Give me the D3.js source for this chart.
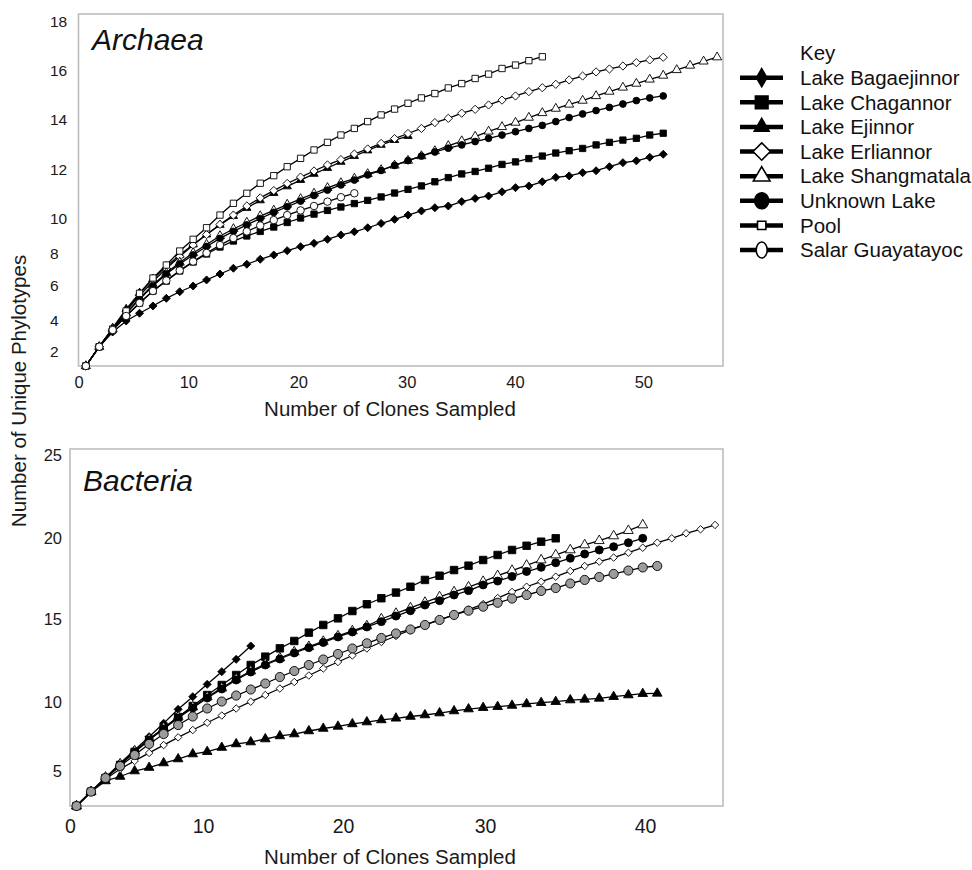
<!DOCTYPE html>
<html><head><meta charset="utf-8">
<script src="https://cdn.jsdelivr.net/npm/d3@7"></script>
<style>
body{margin:0;background:#fff;}
svg{display:block;font-family:"Liberation Sans",Arial,sans-serif;}
</style></head><body>
<svg id="chart" width="972" height="870"></svg>
<script>
// ================= DATA =================
const seriesNames = ["Lake Bagaejinnor","Lake Chagannor","Lake Ejinnor","Lake Erliannor","Lake Shangmatala","Unknown Lake","Pool","Salar Guayatayoc"];

const xTicksArchaea = [0,10,20,30,40,50];
const yTicksArchaea = [2,4,6,8,10,12,14,16,18];
const xTicksBacteria = [0,10,20,30,40];
const yTicksBacteria = [5,10,15,20,25];

// clones sampled at each rarefaction point (read against the printed axis)
const clonesArchaea = [0.67,1.89,3.11,4.34,5.56,6.78,8.00,9.22,10.44,11.66,12.88,14.10,15.32,16.54,17.77,18.99,20.21,21.45,22.69,23.93,25.17,26.40,27.64,28.88,30.12,31.36,32.60,33.84,35.08,36.32,37.56,38.80,40.04,41.08,42.13,43.18,44.22,45.27,46.32,47.36,48.41,49.46,50.50,51.55,52.60,53.64,54.69,55.74];
const clonesBacteria = [0.49,1.58,2.67,3.77,4.86,5.95,7.04,8.13,9.23,10.30,11.34,12.37,13.41,14.45,15.49,16.52,17.56,18.59,19.64,20.66,21.68,22.70,23.73,24.75,25.77,26.80,27.82,28.84,29.87,30.79,31.69,32.60,33.51,34.42,35.33,36.23,37.14,38.04,38.96,39.86,40.77,41.68,42.58,43.49,44.40];

// Archaea: unique phylotypes
const arcBagaejinnor = [1.00,2.32,3.27,3.98,4.43,4.85,5.29,5.67,6.00,6.38,6.75,7.11,7.36,7.67,7.94,8.19,8.42,8.61,8.84,9.09,9.27,9.50,9.75,9.98,10.16,10.33,10.46,10.53,10.71,10.84,10.94,11.11,11.28,11.35,11.52,11.70,11.76,11.89,11.97,12.13,12.29,12.36,12.50,12.62];
const arcChagannor = [1.00,2.32,3.40,4.27,5.02,5.71,6.31,6.94,7.50,8.00,8.40,8.74,9.03,9.29,9.54,9.80,10.04,10.20,10.35,10.49,10.63,10.76,10.90,11.06,11.21,11.35,11.52,11.69,11.84,11.94,12.07,12.22,12.32,12.45,12.55,12.67,12.76,12.85,12.99,13.09,13.18,13.25,13.38,13.45];
const arcEjinnor = [1.00,2.32,3.53,4.67,5.60,6.44,7.22,7.94,8.54,9.11,9.66,10.12,10.45,10.76,11.06,11.33,11.59,11.84,12.08,12.32,12.55,12.77,12.99,13.18,13.34];
const arcErliannor = [1.00,2.32,3.46,4.56,5.45,6.28,7.09,7.84,8.51,9.11,9.69,10.16,10.53,10.86,11.16,11.45,11.71,11.96,12.20,12.41,12.63,12.83,13.05,13.24,13.44,13.64,13.87,14.04,14.25,14.41,14.59,14.79,14.96,15.14,15.30,15.44,15.62,15.78,15.95,16.07,16.19,16.33,16.44,16.55];
const arcShangmatala = [1.00,2.32,3.46,4.44,5.28,6.06,6.81,7.47,8.06,8.54,9.03,9.43,9.80,10.12,10.35,10.59,10.82,11.04,11.27,11.47,11.65,11.84,12.00,12.18,12.37,12.55,12.75,12.95,13.14,13.32,13.52,13.70,13.87,14.07,14.26,14.44,14.61,14.77,14.96,15.14,15.31,15.47,15.64,15.80,16.03,16.21,16.38,16.55];
const arcUnknown = [1.00,2.32,3.46,4.41,5.25,6.00,6.75,7.38,7.94,8.43,8.89,9.29,9.66,10.02,10.27,10.50,10.73,10.96,11.18,11.39,11.59,11.80,11.98,12.18,12.37,12.55,12.71,12.86,12.99,13.12,13.25,13.38,13.51,13.64,13.76,13.91,14.07,14.22,14.36,14.49,14.63,14.77,14.88,14.96];
const arcPool = [1.00,2.32,3.46,4.56,5.58,6.50,7.31,8.17,8.84,9.50,10.16,10.64,11.05,11.46,11.77,12.13,12.46,12.79,13.09,13.38,13.64,13.91,14.18,14.42,14.66,14.88,15.06,15.29,15.47,15.68,15.86,16.09,16.23,16.41,16.57];
const arcSalar = [1.00,2.32,3.40,4.27,5.02,5.71,6.34,6.97,7.53,8.06,8.51,8.91,9.29,9.63,9.94,10.16,10.35,10.53,10.71,10.89,11.05];

// Bacteria: unique phylotypes
const bacBagaejinnor = [1.00,2.67,4.23,5.61,6.57,7.54,8.51,9.52,10.36,11.10,11.86,12.60,13.40];
const bacChagannor = [1.00,2.67,4.27,5.49,6.43,7.30,8.17,8.96,9.76,10.46,11.06,11.66,12.26,12.76,13.26,13.70,14.20,14.66,15.06,15.51,15.93,16.30,16.65,17.01,17.43,17.69,18.04,18.31,18.66,18.97,19.28,19.54,19.79,20.00];
const bacEjinnor = [1.00,2.67,3.92,4.44,5.05,5.30,5.63,5.92,6.28,6.45,6.75,7.01,7.15,7.37,7.59,7.73,7.95,8.13,8.28,8.46,8.60,8.75,8.87,9.00,9.11,9.25,9.40,9.54,9.64,9.71,9.80,9.91,10.00,10.06,10.16,10.20,10.26,10.36,10.46,10.54,10.56];
const bacErliannor = [1.00,2.67,4.15,5.20,5.78,6.36,6.93,7.49,8.02,8.55,9.07,9.58,10.06,10.46,10.85,11.24,11.63,12.05,12.44,12.83,13.25,13.64,14.00,14.36,14.66,14.96,15.27,15.60,15.94,16.31,16.69,17.01,17.32,17.63,17.98,18.29,18.56,18.81,19.11,19.42,19.73,20.00,20.30,20.54,20.80];
const bacShangmatala = [1.00,2.67,4.35,5.56,6.50,7.37,8.17,8.96,9.69,10.34,10.88,11.42,11.90,12.32,12.68,13.04,13.36,13.67,14.00,14.30,14.60,15.02,15.36,15.70,16.04,16.38,16.69,16.99,17.33,17.69,18.01,18.33,18.66,18.97,19.28,19.59,19.85,20.14,20.46,20.80];
const bacUnknown = [1.00,2.67,4.23,5.49,6.43,7.30,8.09,8.89,9.62,10.28,10.82,11.36,11.84,12.26,12.62,12.98,13.30,13.61,13.94,14.24,14.54,14.86,15.20,15.53,15.88,16.15,16.50,16.77,17.12,17.36,17.64,17.95,18.21,18.49,18.77,19.03,19.28,19.48,19.73,20.00];
const bacSalar = [1.00,2.67,4.27,5.41,6.21,7.01,7.73,8.38,9.00,9.58,10.07,10.43,10.79,11.15,11.54,11.90,12.26,12.59,12.92,13.25,13.56,13.88,14.15,14.39,14.66,14.96,15.27,15.53,15.78,16.02,16.28,16.50,16.75,16.93,17.21,17.43,17.61,17.80,18.01,18.20,18.29];

const archaeaSeries = [arcBagaejinnor,arcChagannor,arcEjinnor,arcErliannor,arcShangmatala,arcUnknown,arcPool,arcSalar];
const bacteriaSeries = [bacBagaejinnor,bacChagannor,bacEjinnor,bacErliannor,bacShangmatala,bacUnknown,null,bacSalar];

// ================= LAYOUT (axis stops as printed on the figure) =================
const svg = d3.select("#chart");
const diamondSq = { draw(ctx, size){ const r=Math.sqrt(size/2); ctx.moveTo(0,-r); ctx.lineTo(r,0); ctx.lineTo(0,r); ctx.lineTo(-r,0); ctx.closePath(); } };

const panels = [
  {
    title:"Archaea", titleX:92, titleY:50,
    clones: clonesArchaea, series: archaeaSeries,
    x: d3.scaleLinear().domain([0,10,20,30,40,50,56.2]).range([78.5,188.3,298.3,406.7,515,643.3,723]),
    y: d3.scaleLinear().domain([1,2,4,6,8,10,12,14,16,18,18.31]).range([366,351.7,320.7,286,254,219,170,119.3,70.7,21.7,14]),
    xTicks: xTicksArchaea, yTicks: yTicksArchaea,
    xFont:16.5, yFont:15.5, xPad:10.5, yAnchor:"start", yLabelX:50, xTitleY:415.5,
    markers:[
      {type:diamondSq,size:32,fill:"#000"},
      {type:d3.symbolSquare,size:40,fill:"#000"},
      {type:d3.symbolTriangle,size:30,fill:"#000"},
      {type:diamondSq,size:34,fill:"#fff"},
      {type:d3.symbolTriangle,size:36,fill:"#fff"},
      {type:d3.symbolCircle,size:36,fill:"#000"},
      {type:d3.symbolSquare,size:40,fill:"#fff"},
      {type:d3.symbolCircle,size:44,fill:"#fff"}
    ]
  },
  {
    title:"Bacteria", titleX:83, titleY:491,
    clones: clonesBacteria, series: bacteriaSeries,
    x: d3.scaleLinear().domain([0,10,20,30,40,44.9]).range([70,203,343,485,645,723]),
    y: d3.scaleLinear().domain([1,5,10,15,20,25,25.36]).range([806,771.7,702.7,619.3,538.3,455,449]),
    xTicks: xTicksBacteria, yTicks: yTicksBacteria,
    xFont:19.5, yFont:16.5, xPad:13, yAnchor:"end", yLabelX:62, xTitleY:864,
    markers:[
      {type:diamondSq,size:32,fill:"#000"},
      {type:d3.symbolSquare,size:56,fill:"#000"},
      {type:d3.symbolTriangle,size:40,fill:"#000"},
      {type:diamondSq,size:28,fill:"#fff"},
      {type:d3.symbolTriangle,size:42,fill:"#fff"},
      {type:d3.symbolCircle,size:50,fill:"#000"},
      {type:d3.symbolSquare,size:40,fill:"#fff"},
      {type:d3.symbolCircle,size:66,fill:"#9c9c9c"}
    ]
  }
];

panels.forEach(p => {
  const [x0,x1] = [p.x.range()[0], p.x.range()[p.x.range().length-1]];
  const yr = p.y.range();
  const [yb,yt] = [yr[0], yr[yr.length-1]];
  const g = svg.append("g");

  g.append("rect").attr("x",x0).attr("y",yt).attr("width",x1-x0).attr("height",yb-yt)
    .attr("fill","none").attr("stroke","#bdbdbd").attr("stroke-width",1.6);

  // axes (labels only)
  const xa = g.append("g").attr("transform",`translate(0,${yb})`)
    .call(d3.axisBottom(p.x).tickValues(p.xTicks).tickSize(0).tickPadding(p.xPad).tickFormat(d3.format("d")));
  xa.select(".domain").remove();
  xa.selectAll("text").attr("font-size",p.xFont).attr("fill","#1a1a1a").attr("font-family","Liberation Sans, Arial, sans-serif");

  const ya = g.append("g").attr("transform",`translate(${x0},0)`)
    .call(d3.axisLeft(p.y).tickValues(p.yTicks).tickSize(0).tickFormat(d3.format("d")));
  ya.select(".domain").remove();
  ya.selectAll("text").attr("font-size",p.yFont).attr("fill","#1a1a1a")
    .attr("font-family","Liberation Sans, Arial, sans-serif")
    .attr("text-anchor",p.yAnchor).attr("x",p.yLabelX - x0);

  g.append("text").attr("x",390).attr("y",p.xTitleY).attr("text-anchor","middle")
    .attr("font-size",20.5).attr("fill","#1a1a1a").text("Number of Clones Sampled");

  g.append("text").attr("x",p.titleX).attr("y",p.titleY).attr("font-size",30)
    .attr("font-style","italic").attr("fill","#111").text(p.title);

  const line = d3.line().x(d=>p.x(d[0])).y(d=>p.y(d[1]));
  p.series.forEach((vals,i) => {
    if(!vals) return;
    const pts = vals.map((v,k)=>[p.clones[k], v]);
    const sg = g.append("g");
    sg.append("path").attr("d",line(pts)).attr("fill","none").attr("stroke","#000").attr("stroke-width",1.3);
    const m = p.markers[i];
    const sym = d3.symbol().type(m.type).size(m.size);
    sg.selectAll("path.mk").data(pts).join("path").attr("class","mk")
      .attr("transform",d=>`translate(${p.x(d[0])},${p.y(d[1])})`)
      .attr("d",sym()).attr("fill",m.fill).attr("stroke","#000").attr("stroke-width",0.9);
  });
});

// y-axis title shared
svg.append("text").attr("transform","translate(26,391) rotate(-90)").attr("text-anchor","middle")
  .attr("font-size",20.5).attr("fill","#1a1a1a").text("Number of Unique Phylotypes");

// ================= LEGEND =================
const lg = svg.append("g");
lg.append("text").attr("x",800).attr("y",60).attr("font-size",20.5).attr("fill","#111").text("Key");
const legendRow = d3.scaleLinear().domain([0,7]).range([77.7,250]);
const legendMarkers = [
  {type:d3.symbolDiamond,size:95,fill:"#000"},
  {type:d3.symbolSquare,size:160,fill:"#000"},
  {type:d3.symbolTriangle,size:95,fill:"#000"},
  {type:diamondSq,size:150,fill:"#fff"},
  {type:d3.symbolTriangle,size:120,fill:"#fff"},
  {type:"ellipse",rx:7,ry:8,fill:"#000"},
  {type:d3.symbolSquare,size:70,fill:"#fff"},
  {type:"ellipse",rx:5.5,ry:8,fill:"#fff"}
];
seriesNames.forEach((name,i)=>{
  const cy = legendRow(i);
  lg.append("line").attr("x1",740).attr("x2",783).attr("y1",cy).attr("y2",cy).attr("stroke","#000").attr("stroke-width",4.5);
  const m = legendMarkers[i];
  if(m.type==="ellipse"){
    lg.append("ellipse").attr("cx",761.7).attr("cy",cy).attr("rx",m.rx).attr("ry",m.ry)
      .attr("fill",m.fill).attr("stroke","#000").attr("stroke-width",1.6);
  } else {
    lg.append("path").attr("transform",`translate(761.7,${cy})`).attr("d",d3.symbol().type(m.type).size(m.size)())
      .attr("fill",m.fill).attr("stroke","#000").attr("stroke-width",1.6);
  }
  lg.append("text").attr("x",800).attr("y",cy+7.3).attr("font-size",20.5).attr("fill","#111").text(name);
});
</script>
</body></html>
